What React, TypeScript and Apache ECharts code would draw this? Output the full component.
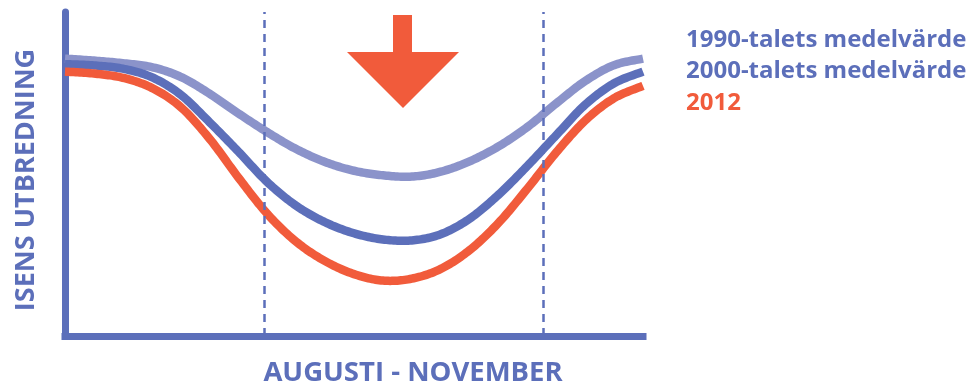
import React, { useEffect, useRef } from "react";
import * as echarts from "echarts";

// x: position within August–November (0 = start of August, 100 = end of November)
const xPos = [0, 5, 10, 15, 20, 25, 30, 35, 40, 45, 50, 55, 60, 65, 70, 75, 80, 85, 90, 95, 100];
// y: relative ice extent (index)
const avg1990s = [85.6, 85.0, 84.2, 83.0, 80.0, 74.8, 68.7, 62.9, 57.7, 53.7, 51.0, 49.6, 49.2, 50.7, 53.9, 58.5, 64.5, 71.8, 78.7, 83.6, 85.6];
const avg2000s = [83.9, 83.5, 82.5, 79.9, 74.5, 66.0, 56.9, 47.5, 40.2, 35.1, 31.7, 29.8, 29.5, 31.4, 36.2, 43.6, 52.5, 62.0, 71.4, 78.0, 81.6];
const year2012 = [81.6, 81.0, 79.7, 76.6, 70.7, 60.9, 48.9, 37.7, 29.1, 23.1, 19.1, 17.1, 17.7, 20.7, 26.5, 34.9, 45.5, 56.7, 66.5, 73.4, 77.2];
const seriesNames = ["1990-talets medelvärde", "2000-talets medelvärde", "2012"];
const dashedMarks = [34.4, 82.7];

const BLUE = "#5C6FBA";
const LIGHT = "#8B93CA";
const ORANGE = "#F15B3B";
const FONT = "Open Sans";

// Catmull-Rom spline through pixel points, sampled for a smooth polyline
function spline(pts: number[][], steps = 16): number[][] {
  const out: number[][] = [];
  const n = pts.length;
  for (let i = 0; i < n - 1; i++) {
    const p0 = pts[Math.max(i - 1, 0)];
    const p1 = pts[i];
    const p2 = pts[i + 1];
    const p3 = pts[Math.min(i + 2, n - 1)];
    for (let s = 0; s < steps; s++) {
      const t = s / steps;
      const t2 = t * t;
      const t3 = t2 * t;
      const f = (a: number, b: number, c: number, d: number) =>
        0.5 * (2 * b + (-a + c) * t + (2 * a - 5 * b + 4 * c - d) * t2 + (-a + 3 * b - 3 * c + d) * t3);
      out.push([f(p0[0], p1[0], p2[0], p3[0]), f(p0[1], p1[1], p2[1], p3[1])]);
    }
  }
  out.push(pts[n - 1]);
  return out;
}

export default function App() {
  const ref = useRef<HTMLDivElement>(null);
  useEffect(() => {
    document.body.style.margin = "0";
    const chart = echarts.init(ref.current!, null, { renderer: "svg" });
    const toPairs = (ys: number[]) => xPos.map((x, i) => [x, ys[i]]);
    const curveSeries = (name: string, ys: number[], color: string) => ({
      name,
      type: "custom",
      data: toPairs(ys),
      encode: { x: 0, y: 1 },
      itemStyle: { color },
      renderItem: (params: any, api: any) => {
        if (params.dataIndex !== 0) return null;
        const pts = ys.map((y, i) => api.coord([xPos[i], y]));
        return {
          type: "polyline",
          shape: { points: spline(pts) },
          style: { stroke: color, lineWidth: 8.5, fill: "none", lineJoin: "round", lineCap: "butt" },
        };
      },
    });
    chart.setOption({
      animation: false,
      grid: { left: 65, right: 327, top: 12, bottom: 47.5, containLabel: false },
      legend: {
        orient: "vertical",
        left: 681,
        top: 25,
        padding: 0,
        icon: "none",
        itemWidth: 0,
        itemHeight: 0,
        itemGap: 7.5,
        selectedMode: false,
        data: [
          { name: seriesNames[0], textStyle: { color: BLUE } },
          { name: seriesNames[1], textStyle: { color: BLUE } },
          { name: seriesNames[2], textStyle: { color: ORANGE } },
        ],
        textStyle: { fontFamily: FONT, fontWeight: "bold", fontSize: 24 },
      },
      xAxis: {
        type: "value",
        min: 0,
        max: 100,
        name: "AUGUSTI - NOVEMBER",
        nameLocation: "middle",
        nameGap: 20,
        nameTextStyle: { color: BLUE, fontFamily: FONT, fontWeight: "bold", fontSize: 27.5, padding: [0, 0, 0, 118] },
        axisLine: { show: true, onZero: false, lineStyle: { color: BLUE, width: 7, cap: "square" } },
        axisTick: { show: false },
        axisLabel: { show: false },
        splitLine: { show: false },
      },
      yAxis: {
        type: "value",
        min: 0,
        max: 100,
        name: "ISENS UTBREDNING",
        nameLocation: "middle",
        nameGap: 28,
        nameRotate: 90,
        nameTextStyle: { color: BLUE, fontFamily: FONT, fontWeight: "bold", fontSize: 27, padding: [0, 12, 0, 0] },
        axisLine: { show: true, onZero: false, lineStyle: { color: BLUE, width: 7 } },
        axisTick: { show: false },
        axisLabel: { show: false },
        splitLine: { show: false },
      },
      series: [
        {
          name: "markers",
          type: "line",
          data: [],
          markLine: {
            silent: true,
            symbol: "none",
            label: { show: false },
            lineStyle: { color: BLUE, width: 2.5, type: [8, 6] },
            data: dashedMarks.map((v) => ({ xAxis: v })),
          },
        },
        curveSeries(seriesNames[0], avg1990s, LIGHT),
        curveSeries(seriesNames[1], avg2000s, BLUE),
        curveSeries(seriesNames[2], year2012, ORANGE),
      ],
      graphic: [
        { type: "rect", shape: { x: 393, y: 15, width: 19, height: 38 }, style: { fill: ORANGE } },
        { type: "polygon", shape: { points: [[347, 52], [459, 52], [403, 108]] }, style: { fill: ORANGE } },
      ],
    });
    return () => chart.dispose();
  }, []);
  return <div ref={ref} style={{ position: "fixed", left: 0, top: 0, width: 970, height: 389 }} />;
}
